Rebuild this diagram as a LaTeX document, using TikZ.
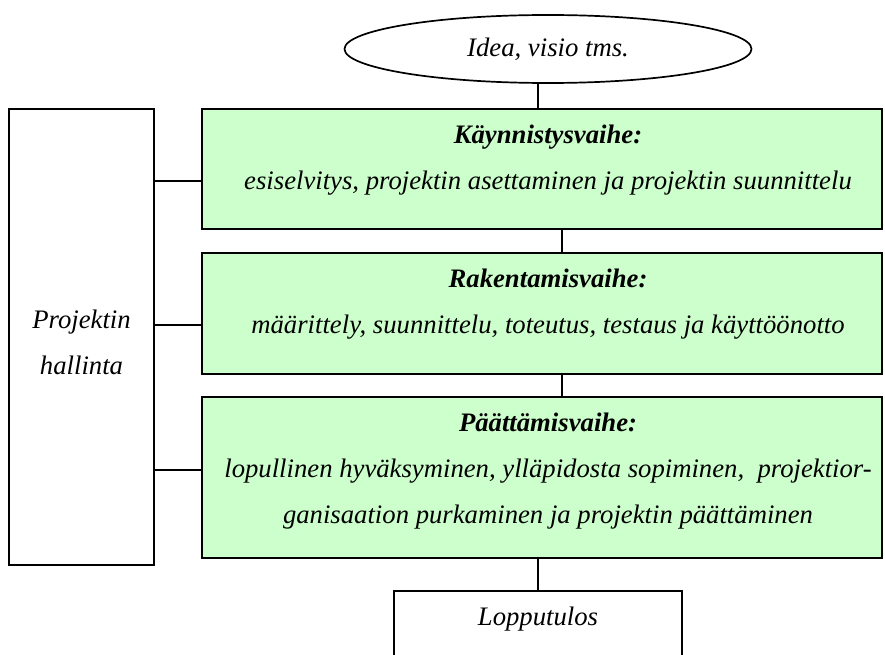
\documentclass[tikz,border=0pt]{standalone}
\usepackage{fontspec}
\setmainfont{Liberation Serif}
\usetikzlibrary{shapes.geometric}
\definecolor{phasegreen}{HTML}{CCFFCC}
\tikzset{
  frame/.style={draw=black, line width=2pt, inner sep=0pt},
  phasebox/.style={frame, fill=phasegreen, minimum width=680pt},
  plainbox/.style={frame, fill=white},
  label/.style={align=center, inner sep=0pt, font=\fontsize{26.7}{46}\selectfont\itshape},
  link/.style={draw=black, line width=2pt}
}
\begin{document}
\begin{tikzpicture}[x=1pt, y=-1pt]
\useasboundingbox (0,0) rectangle (885,655);
\clip (0,0) rectangle (885,655);

% start: the idea
\node[draw=black, line width=1.7pt, ellipse, minimum width=407pt, minimum height=68pt,
      inner sep=0pt, font=\fontsize{26.7}{30}\selectfont\itshape] (idea) at (548,49) {Idea, visio tms.};

% management frame on the left
\node[plainbox, minimum width=145pt, minimum height=456pt] (mgmt) at (81.5,337) {};
\node[label] (mgmttext) at (81.5,342) {Projektin\\hallinta};

% the three phases
\node[phasebox, minimum height=120pt] (b1) at (542,169) {};
\node[label] (t1) at (548,160) {\bfseries Käynnistysvaihe:\\esiselvitys, projektin asettaminen ja projektin suunnittelu};

\node[phasebox, minimum height=121pt] (b2) at (542,313.5) {};
\node[label] (t2) at (548,304) {\bfseries Rakentamisvaihe:\\määrittely, suunnittelu, toteutus, testaus ja käyttöönotto};

\node[phasebox, minimum height=161pt] (b3) at (542,477.5) {};
\node[label] (t3) at (548,471) {\bfseries Päättämisvaihe:\\lopullinen hyväksyminen, ylläpidosta sopiminen,~ projektior-\\ganisaation purkaminen ja projektin päättäminen};

% result
\node[plainbox, minimum width=288pt, minimum height=100pt, anchor=north] (lop) at (538,590) {};
\node[label] (loptext) at (538,619) {Lopputulos};

% connector guides
\coordinate (midx) at (562,0);
\coordinate (h1) at (0,181);
\coordinate (h2) at (0,325);
\coordinate (h3) at (0,470);

% vertical flow
\draw[link] (idea.south -| lop.north) -- (b1.north -| lop.north);
\draw[link] (b1.south -| midx) -- (b2.north -| midx);
\draw[link] (b2.south -| midx) -- (b3.north -| midx);
\draw[link] (b3.south -| lop.north) -- (lop.north);

% management links
\draw[link] (mgmt.east |- h1) -- (b1.west |- h1);
\draw[link] (mgmt.east |- h2) -- (b2.west |- h2);
\draw[link] (mgmt.east |- h3) -- (b3.west |- h3);
\end{tikzpicture}
\end{document}
